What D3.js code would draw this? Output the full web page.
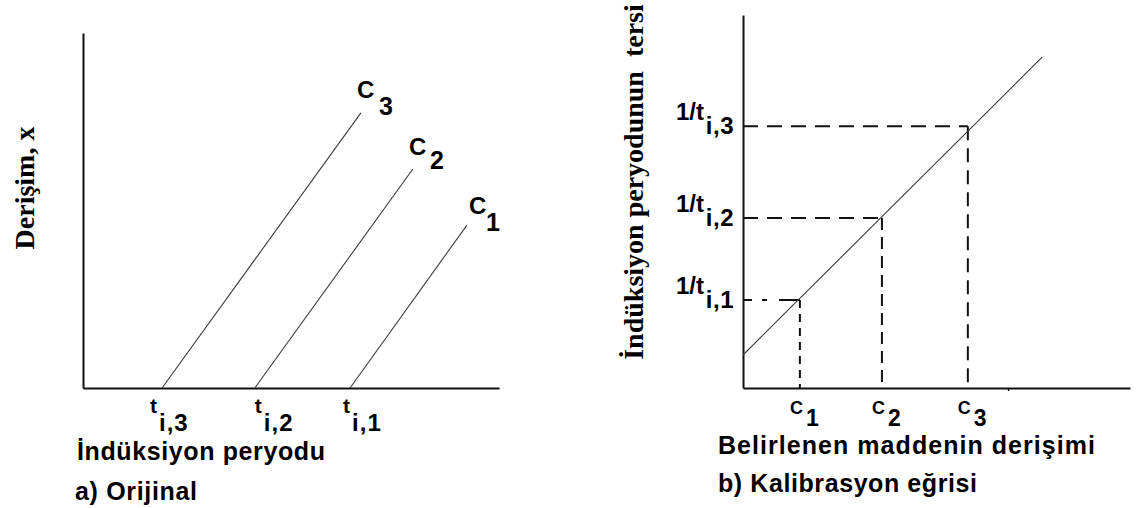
<!DOCTYPE html>
<html>
<head>
<meta charset="utf-8">
<script src="https://cdn.jsdelivr.net/npm/d3@7"></script>
<style>
  html, body { margin: 0; padding: 0; background: #fff; }
  svg { display: block; }
</style>
</head>
<body>
<svg id="chart" width="1142" height="508"></svg>
<script>
// ---- (a) concentration vs. time, one growth line per standard ----
const stdSubscripts   = ["1", "2", "3"];
const inductionTimes  = [6.42, 4.13, 1.90];   // t_i,1 .. t_i,3
const growthEndTime   = [9.23, 7.93, 6.68];
const growthEndConc   = [4.59, 6.17, 7.75];
const timeTickSubs    = ["i,1", "i,2", "i,3"];

// ---- (b) calibration: 1/t_i against concentration ----
const standardConc     = [1.47, 3.59, 5.81];  // C1 .. C3
const inverseInduction = [2.36, 4.56, 7.02];  // 1/t_i,1 .. 1/t_i,3
const calibLineConc    = [0, 7.73];
const calibLineInv     = [0.885, 8.87];
const extraConcTicks   = [6.85];

const titlesA = { y: "Derişim, x", x: "İndüksiyon peryodu", caption: "a) Orijinal" };
const titlesB = { y: "İndüksiyon peryodunun  tersi", x: "Belirlenen maddenin derişimi", caption: "b) Kalibrasyon eğrisi" };

const svg = d3.select("#chart");
const SANS = "'Liberation Sans', Arial, sans-serif";
const SERIF = "'Liberation Serif', 'Times New Roman', serif";
const INK = "#111";
const THIN = "#3a3a3a";

function bareAxis(g, axis) {
  g.call(axis);
  g.selectAll("path.domain").attr("stroke", INK).attr("stroke-width", 2);
  g.selectAll(".tick line").attr("stroke", INK).attr("stroke-width", 1.5);
  g.selectAll(".tick text").remove();
}

function label(x, y, str, size, extra) {
  const t = svg.append("text").attr("x", x).attr("y", y)
    .attr("font-family", SANS).attr("font-weight", "bold").attr("font-size", size)
    .attr("fill", "#000").text(str);
  Object.entries(extra || {}).forEach(([k, v]) => t.attr(k, v));
  return t;
}

// ================= panel (a) =================
const xA = d3.scaleLinear().domain([0, 10]).range([83, 499]);
const yA = d3.scaleLinear().domain([0, 10]).range([388, 33]);

bareAxis(svg.append("g").attr("transform", `translate(0,${yA(0)})`),
  d3.axisBottom(xA).tickValues([]).tickSizeOuter(0));
bareAxis(svg.append("g").attr("transform", `translate(${xA(0)},0)`),
  d3.axisLeft(yA).tickValues([]).tickSizeOuter(0));

const lineGen = d3.line();
inductionTimes.forEach((t0, i) => {
  svg.append("path")
    .attr("d", lineGen([[xA(t0), yA(0)], [xA(growthEndTime[i]), yA(growthEndConc[i])]]))
    .attr("fill", "none").attr("stroke", THIN).attr("stroke-width", 1.1);
});

// C labels at the upper end of each line
const cNudgeA = [
  { cx: 2, cy: -11, sx: 19, sy: 6 },
  { cx: -4, cy: -14, sx: 17, sy: 0 },
  { cx: -4, cy: -15, sx: 18, sy: 2 }
];
stdSubscripts.forEach((s, i) => {
  const px = xA(growthEndTime[i]), py = yA(growthEndConc[i]);
  const n = cNudgeA[i];
  label(px + n.cx, py + n.cy, "C", 24);
  label(px + n.sx, py + n.sy, s, 25);
});

// t_i labels under the time axis
const tNudge = [-7, 0, -12];
inductionTimes.forEach((t0, i) => {
  const px = xA(t0) + tNudge[i];
  label(px, 413, "t", 21);
  label(px + 9, 431, timeTickSubs[i], 24, { "letter-spacing": 1 });
});

svg.append("text")
  .attr("transform", "translate(34,188) rotate(-90)")
  .attr("text-anchor", "middle")
  .attr("font-family", SERIF).attr("font-weight", "bold").attr("font-size", 28)
  .attr("fill", "#000").text(titlesA.y);

label(77, 460, titlesA.x, 25, { textLength: 248, lengthAdjust: "spacing" });
label(75, 500, titlesA.caption, 25, { textLength: 122, lengthAdjust: "spacing" });

// ================= panel (b) =================
const xB = d3.scaleLinear().domain([0, 10]).range([743, 1130]);
const yB = d3.scaleLinear().domain([0, 10]).range([388, 15]);

bareAxis(svg.append("g").attr("transform", `translate(0,${yB(0)})`),
  d3.axisBottom(xB).tickValues(extraConcTicks).tickSize(3).tickSizeOuter(0));
bareAxis(svg.append("g").attr("transform", `translate(${xB(0)},0)`),
  d3.axisLeft(yB).tickValues([]).tickSizeOuter(0));

// read-off guides
const hDash = ["9,10,5,12,30", "15,9", "15,9"];
const vDash = ["8,6", "12,7", "14,8"];
standardConc.forEach((c, i) => {
  const px = xB(c), py = yB(inverseInduction[i]);
  svg.append("path").attr("d", lineGen([[xB(0), py], [px, py]]))
    .attr("fill", "none").attr("stroke", INK).attr("stroke-width", 2)
    .attr("stroke-dasharray", hDash[i]);
  svg.append("path").attr("d", lineGen([[px, py], [px, yB(0)]]))
    .attr("fill", "none").attr("stroke", INK).attr("stroke-width", 2)
    .attr("stroke-dasharray", vDash[i]);
});

// calibration line
svg.append("path")
  .attr("d", lineGen(calibLineConc.map((c, i) => [xB(c), yB(calibLineInv[i])])))
  .attr("fill", "none").attr("stroke", THIN).attr("stroke-width", 1.1);

// C labels under the concentration axis
stdSubscripts.forEach((s, i) => {
  const px = xB(standardConc[i]);
  label(px - 10, 414, "C", 18);
  label(px + 6, 426, s, 23);
});

// 1/t_i labels beside the inverse-time axis
inverseInduction.forEach((v, i) => {
  const py = yB(v);
  label(704, py - 6, "1/t", 24, { "text-anchor": "end" });
  label(734, py + 8, timeTickSubs[i], 24, { "text-anchor": "end", "letter-spacing": 0.5 });
});

svg.append("text")
  .attr("transform", "translate(643,182) rotate(-90)")
  .attr("text-anchor", "middle")
  .style("white-space", "pre")
  .attr("font-family", SERIF).attr("font-weight", "bold").attr("font-size", 28)
  .attr("fill", "#000").text(titlesB.y);

label(718, 454, titlesB.x, 25, { textLength: 377, lengthAdjust: "spacing" });
label(718, 492, titlesB.caption, 25, { textLength: 259, lengthAdjust: "spacing" });
</script>
</body>
</html>
